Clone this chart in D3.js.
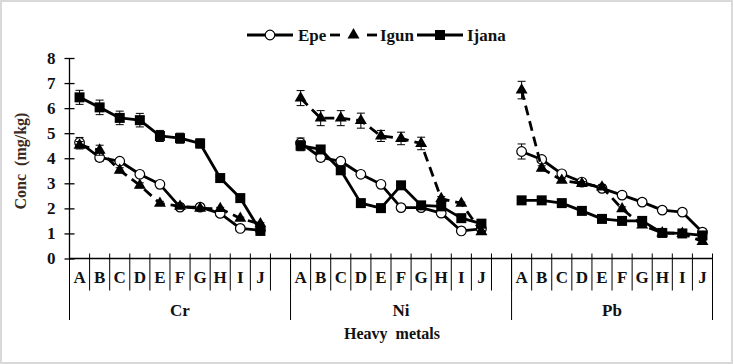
<!DOCTYPE html>
<html><head><meta charset="utf-8">
<script src="https://cdn.jsdelivr.net/npm/d3@7"></script>
<style>
html,body{margin:0;padding:0;background:#fff;}
svg{display:block;}
svg text{font-family:"Liberation Serif","Times New Roman","DejaVu Serif",serif !important;font-weight:bold;}
</style></head><body>
<script>
const groups = ["Cr","Ni","Pb"];
const sites = ["A","B","C","D","E","F","G","H","I","J"];
const yTicks = [0,1,2,3,4,5,6,7,8];
const seriesNames = ["Epe","Igun","Ijana"];
// values per group (A..J)
const epe = {
  Cr:[4.63,4.03,3.88,3.36,2.96,2.05,2.05,1.8,1.2,1.13],
  Ni:[4.61,4.03,3.88,3.36,2.96,2.03,2.03,1.81,1.1,1.18],
  Pb:[4.27,3.95,3.38,3.05,2.8,2.53,2.25,1.93,1.85,1.05]
};
const igun = {
  Cr:[4.52,4.32,3.52,2.92,2.2,2.08,2.0,1.99,1.6,1.38],
  Ni:[6.4,5.6,5.6,5.5,4.89,4.79,4.59,2.39,2.2,1.07],
  Pb:[6.72,3.6,3.12,2.99,2.85,1.98,1.33,1.02,1.0,0.68]
};
const ijana = {
  Cr:[6.43,6.03,5.61,5.52,4.89,4.8,4.59,3.21,2.41,1.1],
  Ni:[4.5,4.35,3.52,2.21,2.01,2.92,2.12,2.08,1.61,1.39],
  Pb:[2.32,2.32,2.21,1.9,1.58,1.5,1.5,1.02,1.0,0.92]
};
// standard errors
const epeErr = {
  Cr:[0.2,0.15,0.1,0.1,0.08,0.05,0.05,0.05,0.05,0.05],
  Ni:[0.2,0.15,0.1,0.1,0.08,0.05,0.05,0.05,0.05,0.05],
  Pb:[0.3,0.12,0.1,0.08,0.08,0.08,0.05,0.05,0.05,0.05]
};
const igunErr = {
  Cr:[0.15,0.2,0.1,0.1,0.08,0.05,0.05,0.05,0.05,0.05],
  Ni:[0.3,0.3,0.3,0.3,0.22,0.25,0.25,0.08,0.05,0.05],
  Pb:[0.35,0.1,0.08,0.08,0.08,0.08,0.05,0.05,0.05,0.05]
};
const ijanaErr = {
  Cr:[0.28,0.29,0.27,0.27,0.22,0.2,0.18,0.08,0.08,0.05],
  Ni:[0.2,0.1,0.1,0.05,0.05,0.08,0.05,0.05,0.05,0.05],
  Pb:[0.05,0.05,0.05,0.05,0.05,0.05,0.05,0.05,0.05,0.05]
};

(function(){
const FONT = "'Liberation Serif', 'Times New Roman', serif";
const W = 733, H = 364;
const svg = d3.select("body").append("svg").attr("width",W).attr("height",H)
  .attr("font-family",FONT).attr("font-weight","bold");
svg.append("rect").attr("x",1).attr("y",1).attr("width",W-2).attr("height",H-2)
  .attr("fill","#fff").attr("stroke","#d9d9d9").attr("stroke-width",2);

const mLeft = 69.5, mRight = 712.5, mTop = 58, mBottom = 258.5;
const slots = [];
groups.forEach((g,gi)=>{
  sites.forEach(s=>slots.push(g+"|"+s));
  if (gi < groups.length-1) slots.push(g+"|_blank");
});
const x = d3.scaleBand().domain(slots).range([mLeft,mRight]).padding(0);
const y = d3.scaleLinear().domain([0,8]).range([mBottom,mTop]);

const axisColor = "#000";
const yAxis = svg.append("g").attr("transform",`translate(${mLeft},0)`)
  .call(d3.axisLeft(y).tickValues(yTicks).tickSize(5).tickPadding(9).tickFormat(d3.format("d")));
yAxis.attr("font-family",FONT).attr("font-size",17);
yAxis.select(".domain").attr("stroke",axisColor).attr("stroke-width",1.3).attr("d",`M0,${y(0)}V${y(8)}`);
yAxis.selectAll(".tick line").attr("x1",-5).attr("x2",5).attr("stroke-width",1.3);
yAxis.selectAll(".tick text").attr("font-size",17).attr("fill","#111").attr("font-family",FONT);

svg.append("line").attr("x1",mLeft).attr("x2",mRight).attr("y1",mBottom).attr("y2",mBottom)
  .attr("stroke",axisColor).attr("stroke-width",1.3);
const slotEdges = slots.map(k=>x(k)).concat([mRight]);
slotEdges.forEach(px=>{
  svg.append("line").attr("x1",px).attr("x2",px).attr("y1",mBottom-5).attr("y2",mBottom+32)
    .attr("stroke",axisColor).attr("stroke-width",1);
});
const groupEdges = [mLeft, x("Ni|A"), x("Pb|A"), mRight];
groupEdges.forEach(px=>{
  svg.append("line").attr("x1",px).attr("x2",px).attr("y1",mBottom).attr("y2",320)
    .attr("stroke",axisColor).attr("stroke-width",1);
});
groups.forEach(g=>{
  sites.forEach(s=>{
    svg.append("text").attr("x",x(g+"|"+s)+x.bandwidth()/2).attr("y",283)
      .attr("text-anchor","middle").attr("font-size",17).attr("fill","#111").text(s);
  });
});
groups.forEach((g,gi)=>{
  const c = (groupEdges[gi]+groupEdges[gi+1])/2;
  svg.append("text").attr("x",c).attr("y",316).attr("text-anchor","middle")
    .attr("font-size",17).attr("fill","#111").text(g);
});
svg.append("text").attr("x",392).attr("y",339).attr("text-anchor","middle")
  .attr("font-size",16).attr("fill","#111").attr("xml:space","preserve").text("Heavy  metals");
svg.append("text").attr("transform",`translate(26,161) rotate(-90)`).attr("text-anchor","middle")
  .attr("font-size",16).attr("fill","#3a2a22").attr("xml:space","preserve").text("Conc  (mg/kg)");

const series = [
  {name:"Epe", vals:epe, errs:epeErr, dash:null, marker:"circle"},
  {name:"Igun", vals:igun, errs:igunErr, dash:"10,6", marker:"triangle"},
  {name:"Ijana", vals:ijana, errs:ijanaErr, dash:null, marker:"square"}
];
const line = d3.line().x(d=>d.x).y(d=>d.y);
function drawMarker(g, type, cx, cy){
  if (type==="circle"){
    g.append("circle").attr("cx",cx).attr("cy",cy).attr("r",4.8)
      .attr("fill","#fff").attr("stroke","#000").attr("stroke-width",1.2);
  } else if (type==="triangle"){
    const sym = d3.symbol().type(d3.symbolTriangle).size(62);
    g.append("path").attr("d",sym()).attr("transform",`translate(${cx},${cy})`).attr("fill","#000");
  } else {
    g.append("rect").attr("x",cx-5).attr("y",cy-5).attr("width",10).attr("height",10).attr("fill","#000");
  }
}
series.forEach(s=>{
  const gS = svg.append("g");
  groups.forEach(grp=>{
    const pts = sites.map((site,i)=>({x:x(grp+"|"+site)+x.bandwidth()/2, y:y(s.vals[grp][i]), v:s.vals[grp][i], e:s.errs[grp][i]}));
    const p = gS.append("path").attr("d",line(pts)).attr("fill","none").attr("stroke","#000")
      .attr("stroke-width",2.8).attr("stroke-linejoin","round");
    if (s.dash) p.attr("stroke-dasharray",s.dash);
    pts.forEach(pt=>{
      const y1 = y(pt.v+pt.e), y2 = y(pt.v-pt.e);
      gS.append("line").attr("x1",pt.x).attr("x2",pt.x).attr("y1",y1).attr("y2",y2).attr("stroke","#000").attr("stroke-width",1);
      [y1,y2].forEach(yy=>gS.append("line").attr("x1",pt.x-4).attr("x2",pt.x+4).attr("y1",yy).attr("y2",yy).attr("stroke","#000").attr("stroke-width",1));
      drawMarker(gS, s.marker, pt.x, pt.y);
    });
  });
});

const legY = 35;
const legItems = [
  {name:"Epe", x1:247, x2:293, tx:298, marker:"circle", dash:null},
  {name:"Igun", x1:330, x2:377, tx:380, marker:"triangle", dash:"10,6"},
  {name:"Ijana", x1:417, x2:463, tx:467, marker:"square", dash:null}
];
legItems.forEach(it=>{
  const gL = svg.append("g");
  if (it.dash){
    gL.append("line").attr("x1",it.x1).attr("x2",it.x1+10).attr("y1",legY).attr("y2",legY).attr("stroke","#000").attr("stroke-width",2.8);
    gL.append("line").attr("x1",it.x2-10).attr("x2",it.x2).attr("y1",legY).attr("y2",legY).attr("stroke","#000").attr("stroke-width",2.8);
  } else {
    gL.append("line").attr("x1",it.x1).attr("x2",it.x2).attr("y1",legY).attr("y2",legY).attr("stroke","#000").attr("stroke-width",2.8);
  }
  drawMarker(gL, it.marker, (it.x1+it.x2)/2, legY);
  gL.append("text").attr("x",it.tx).attr("y",legY+6).attr("font-size",17).attr("fill","#111").text(it.name);
});
})();
</script>
</body></html>
